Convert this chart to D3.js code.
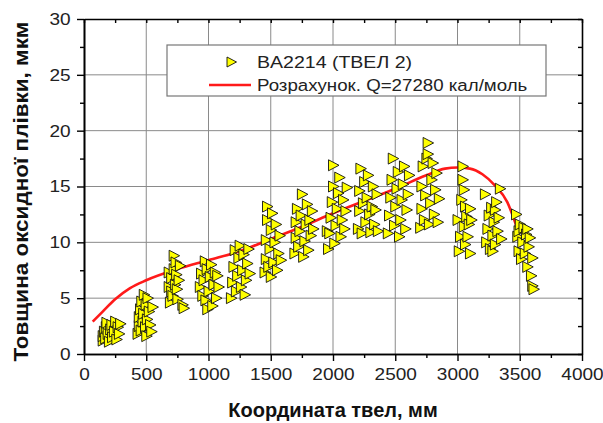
<!DOCTYPE html>
<html><head><meta charset="utf-8">
<script src="https://cdn.jsdelivr.net/npm/d3@7"></script>
<style>
body{margin:0;background:#fff;}
svg{display:block;font-family:"Liberation Sans",Arial,sans-serif;}
</style></head>
<body><svg id="c" width="603" height="423"></svg>
<script>
const xTickValues = [0,500,1000,1500,2000,2500,3000,3500,4000];
const yTickValues = [0,5,10,15,20,25,30];
const xTitle = "Координата твел, мм";
const yTitle = "Товщина оксидної плівки, мкм";
const seriesName = "BA2214 (ТВЕЛ 2)";
const curveName = "Розрахунок. Q=27280 кал/моль";

// measured points: [coordinate, thickness]
const measX = [
 150,150,160,170,175,180,190,200,210,220,225,240,250,260,270,280,290,
 430,440,440,450,455,460,470,475,480,490,495,500,505,510,520,530,540,550,
 680,680,690,700,700,710,720,720,730,735,740,745,750,760,770,790,800,
 930,940,950,960,970,975,985,990,1000,1010,1020,1030,1040,1050,1060,1070,1080,
 1180,1190,1200,1210,1220,1230,1240,1250,1260,1270,1280,1290,1300,1310,1320,1330,
 1450,1460,1460,1470,1470,1480,1490,1500,1500,1510,1520,1530,1540,1550,1560,1570,1580,
 1690,1700,1700,1710,1720,1730,1740,1750,1760,1770,1780,1790,1800,1810,1820,1830,1840,
 1950,1960,1970,1980,1990,2000,2000,2010,2020,2030,2040,2050,2060,2070,2080,2090,2100,2110,
 2200,2210,2210,2220,2230,2240,2250,2260,2270,2280,2290,2300,2310,2320,2330,2340,2350,2360,
 2440,2450,2460,2470,2480,2490,2500,2510,2520,2530,2540,2550,2560,2570,2580,2590,2600,2610,
 2700,2710,2710,2720,2730,2740,2750,2760,2760,2770,2780,2790,2800,2810,2820,2830,2840,2850,
 3000,3010,3020,3030,3040,3040,3050,3050,3060,3060,3070,3080,3090,3100,3100,3110,
 3220,3230,3240,3250,3260,3270,3280,3280,3290,3300,3300,3310,3320,3330,3340,3350,
 3470,3480,3490,3490,3500,3510,3520,3530,3540,3550,3560,3560,3570,3580,3590,3600,3600,3610
];
const measY = [
 1.2,1.6,2.0,1.4,2.4,2.8,1.8,1.1,2.2,2.6,1.5,2.0,2.9,1.3,2.4,1.8,2.7,
 1.8,2.5,3.3,4.0,2.1,4.7,2.9,3.6,5.3,2.4,4.4,1.6,3.1,5.0,3.8,2.6,2.0,4.2,
 6.0,7.3,4.6,5.6,6.8,5.2,7.6,8.8,6.2,8.2,7.1,5.8,4.9,6.6,7.9,4.4,4.1,
 6.0,7.2,5.2,6.6,8.3,4.8,7.6,4.0,5.6,6.9,8.0,4.3,6.2,7.3,5.0,7.0,6.0,
 5.0,6.4,7.8,9.3,5.6,7.0,8.6,9.7,6.0,7.5,8.9,5.3,6.6,8.1,9.4,7.2,
 7.3,8.5,10.2,12.0,13.2,7.8,9.4,11.1,6.9,12.6,8.2,10.0,11.6,7.5,9.0,10.6,8.4,
 9.0,10.4,11.8,13.0,9.6,11.0,12.4,14.3,8.7,10.1,11.6,13.4,9.3,12.0,10.6,12.8,11.2,
 11.0,9.4,10.8,12.2,13.6,15.0,16.9,9.9,11.5,13.0,14.4,15.8,10.5,12.0,13.8,11.2,12.8,14.9,
 11.2,12.8,14.6,16.6,10.8,13.5,15.4,11.8,14.0,16.0,12.5,10.9,13.2,15.0,11.6,12.9,14.3,11.0,
 10.8,12.4,14.0,15.6,17.5,11.5,13.2,14.8,16.3,10.5,12.0,13.8,15.2,16.8,11.2,12.9,14.3,16.0,
 11.3,13.0,15.0,16.8,12.0,14.2,17.5,18.9,17.9,11.6,13.5,15.6,17.1,12.5,14.7,16.2,11.8,13.9,
 12.0,9.2,10.5,13.8,16.8,15.6,14.7,11.4,13.2,9.8,12.3,10.5,11.6,13.0,9.0,12.0,
 14.3,10.0,11.2,12.4,9.4,13.1,10.6,9.2,11.8,12.9,9.8,13.6,11.0,12.2,14.8,10.3,
 12.5,10.5,9.2,11.0,11.6,8.5,10.0,11.3,9.0,10.7,7.8,11.2,9.6,10.4,7.0,8.6,6.1,5.8
];

// calculated curve
const calcX = [70,150,250,370,500,750,1000,1250,1500,1750,2000,2250,2500,2750,2900,3000,3100,3200,3300,3400,3475];
const calcY = [2.9,3.8,4.9,5.9,6.6,7.6,8.4,9.2,10.3,11.4,12.6,13.7,14.8,16.0,16.6,16.7,16.6,16.1,15.1,13.6,11.4];

const svg = d3.select("#c");
const L=84,R=582,T=19,B=354;
const x = d3.scaleLinear().domain([0,4000]).range([L,R]);
const y = d3.scaleLinear().domain([0,30]).range([B,T]);
const xMinor = d3.range(250,4000,500);
const yMinor = d3.range(2.5,30,5);

// grid
const grid = svg.append("g");
grid.selectAll("line.gx").data(xTickValues.slice(1,-1)).join("line")
  .attr("x1",d=>x(d)).attr("x2",d=>x(d)).attr("y1",T).attr("y2",B)
  .attr("stroke","#8a8a8a").attr("stroke-width",1);
grid.selectAll("line.gy").data(yTickValues.slice(1,-1)).join("line")
  .attr("y1",d=>y(d)).attr("y2",d=>y(d)).attr("x1",L).attr("x2",R)
  .attr("stroke","#8a8a8a").attr("stroke-width",1);

// axes
function styleAxis(g){g.selectAll("path").attr("stroke","#000").attr("stroke-width",1.6);
  g.selectAll("line").attr("stroke","#000").attr("stroke-width",1.4);
  g.selectAll("text").attr("font-size",17).attr("fill","#222");}
svg.append("g").attr("transform",`translate(0,${B})`)
  .call(d3.axisBottom(x).tickValues(xTickValues).tickSize(7).tickSizeOuter(0).tickPadding(7).tickFormat(d3.format("d")))
  .call(styleAxis)
  .call(g=>g.selectAll("text").attr("transform","scale(1.12,1)"));
svg.append("g").attr("transform",`translate(0,${B})`)
  .call(d3.axisBottom(x).tickValues(xMinor).tickSize(4).tickSizeOuter(0).tickFormat(""))
  .call(styleAxis);
svg.append("g").attr("transform",`translate(${L},0)`)
  .call(d3.axisLeft(y).tickValues(yTickValues).tickSize(7).tickSizeOuter(0).tickPadding(5).tickFormat(d3.format("d")))
  .call(styleAxis)
  .call(g=>g.selectAll("text").attr("x",-12).attr("transform","scale(1.12,1)"));
svg.append("g").attr("transform",`translate(${L},0)`)
  .call(d3.axisLeft(y).tickValues(yMinor).tickSize(4).tickSizeOuter(0).tickFormat(""))
  .call(styleAxis);
svg.append("g").attr("transform",`translate(0,${T})`)
  .call(d3.axisBottom(x).tickValues(xTickValues.concat(xMinor)).tickSize(4).tickSizeOuter(0).tickFormat(""))
  .call(styleAxis);
svg.append("g").attr("transform",`translate(${R},0)`)
  .call(d3.axisLeft(y).tickValues(yTickValues.concat(yMinor)).tickSize(4).tickSizeOuter(0).tickFormat(""))
  .call(styleAxis);

// curve
const curvePts = calcX.map((v,i)=>[v,calcY[i]]);
svg.append("path").datum(curvePts)
  .attr("d",d3.line().x(d=>x(d[0])).y(d=>y(d[1])).curve(d3.curveMonotoneX))
  .attr("fill","none").attr("stroke","#ff1a1a").attr("stroke-width",2.6);

// points
const tri = "M-4.5,-5.5L6,0L-4.5,5.5Z";
const pts = measX.map((v,i)=>[v,measY[i]]);
svg.append("g").selectAll("path").data(pts).join("path")
  .attr("transform",d=>`translate(${x(d[0])},${y(d[1])})`)
  .attr("d",tri).attr("fill","#ffff00").attr("stroke","#111").attr("stroke-width",0.9);

// legend
const lg = svg.append("g");
lg.append("rect").attr("x",167).attr("y",45).attr("width",379).attr("height",51)
  .attr("fill","#fff").attr("stroke","#777").attr("stroke-width",1.2);
lg.append("path").attr("transform","translate(231,62)").attr("d","M-4,-5L5.5,0L-4,5Z")
  .attr("fill","#ffff00").attr("stroke","#111").attr("stroke-width",0.9);
lg.append("text").attr("transform","translate(257,68) scale(1.15,1)").attr("font-size",17).attr("fill","#222").text(seriesName);
lg.append("line").attr("x1",209).attr("x2",251).attr("y1",85).attr("y2",85)
  .attr("stroke","#ff1a1a").attr("stroke-width",2.6);
lg.append("text").attr("transform","translate(257,91) scale(1.1,1)").attr("font-size",17).attr("fill","#222").text(curveName);

// titles
svg.append("text").attr("x",(L+R)/2).attr("y",417).attr("text-anchor","middle")
  .attr("font-size",20).attr("font-weight","bold").attr("fill","#111").text(xTitle);
svg.append("text").attr("transform",`translate(28,${(T+B)/2+5}) rotate(-90)`).attr("text-anchor","middle")
  .attr("font-size",20).attr("font-weight","bold").attr("fill","#111")
  .attr("textLength",340).attr("lengthAdjust","spacingAndGlyphs").text(yTitle);
</script></body></html>
